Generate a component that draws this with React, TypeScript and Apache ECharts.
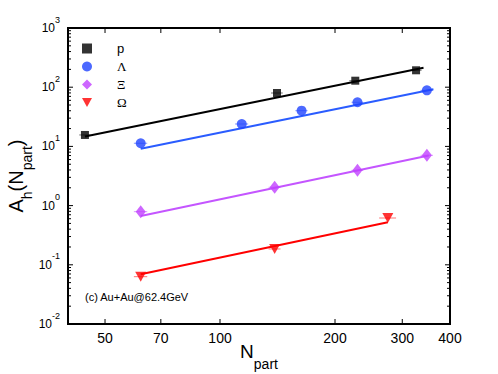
import React, { useEffect, useRef } from 'react';
import * as echarts from 'echarts';

// ---- data ----
const xRange = [40, 400];
const yRange = [0.01, 1000];
const xTickValues = [50, 70, 100, 200, 300, 400];
const yMajorTicks = [0.01, 0.1, 1, 10, 100, 1000];
const speciesNames = ['p', 'Λ', 'Ξ', 'Ω'];

const pN = [44.3, 141, 226, 326];
const pA = [15.6, 79.8, 128.8, 193];
const pErr = [1.5, 5, 8, 11];

const lambdaN = [62, 114, 163.5, 229, 348];
const lambdaA = [11.3, 23.9, 40.1, 55.6, 88.6];
const lambdaErr = [2.5, 4.5, 6, 8, 13];

const xiN = [62, 139, 229, 348];
const xiA = [0.79, 2.04, 3.95, 7.07];
const xiErr = [2.5, 5, 8, 13];

const omegaN = [62, 139, 275];
const omegaA = [0.063, 0.185, 0.617];
const omegaErr = [2.5, 5, 14];

// fitted power-law lines: endpoints
const pFitN = [44.3, 341];
const pFitA = [14.7, 213];
const lambdaFitN = [62, 362];
const lambdaFitA = [9.15, 92];
const xiFitN = [62, 352];
const xiFitA = [0.667, 7.0];
const omegaFitN = [62, 275];
const omegaFitA = [0.069, 0.522];

const annotation = '(c) Au+Au@62.4GeV';

const SANS = "'Liberation Sans', Arial, Helvetica, sans-serif";
const SERIF = "'Liberation Serif', 'Times New Roman', serif";

const colors = {
  p: '#000000',
  lambda: '#1f44ff',
  lambdaLine: '#2a5cff',
  xi: '#c040ff',
  xiLine: '#c455ff',
  omega: '#ff0000',
};

// minor tick positions of the log y axis (2..9 in every decade)
const yMinorTicks: number[] = [];
yMajorTicks.slice(0, -1).forEach((d) => {
  [2, 3, 4, 5, 6, 7, 8, 9].forEach((k) => yMinorTicks.push(+(d * k).toPrecision(3)));
});

function pairs(xs: number[], ys: number[]) {
  return xs.map((x, i) => [x, ys[i]]);
}
function errData(xs: number[], ys: number[], es: number[]) {
  return xs.map((x, i) => [x - es[i], x + es[i], ys[i]]);
}

function errSeries(xs: number[], ys: number[], es: number[], color: string) {
  return {
    type: 'custom',
    name: 'err',
    silent: true,
    z: 3,
    data: errData(xs, ys, es),
    encode: { x: [0, 1], y: 2 },
    renderItem: (params: any, api: any) => {
      const a = api.coord([api.value(0), api.value(2)]);
      const b = api.coord([api.value(1), api.value(2)]);
      return {
        type: 'line',
        shape: { x1: a[0], y1: a[1], x2: b[0], y2: b[1] },
        style: { stroke: color, lineWidth: 1, opacity: 0.55 },
      };
    },
  };
}

function fitSeries(xs: number[], ys: number[], color: string, name: string) {
  return {
    type: 'line',
    name,
    data: pairs(xs, ys),
    symbol: 'none',
    silent: true,
    z: 2,
    lineStyle: { color, width: 2 },
  };
}

export default function App() {
  const ref = useRef<HTMLDivElement>(null);

  useEffect(() => {
    document.body.style.margin = '0';
    if (!ref.current) return;
    const chart = echarts.init(ref.current, null, { renderer: 'svg' });

    const yLabel = (v: number) => `{b|10}{s|${Math.round(Math.log10(v))}}`;

    const option: any = {
      animation: false,
      backgroundColor: '#ffffff',
      grid: { left: 68, right: 48, top: 28, bottom: 50, containLabel: false, outerBoundsMode: 'none' },
      legend: {
        orient: 'vertical',
        left: 82,
        top: 42,
        padding: 0,
        itemWidth: 10,
        itemHeight: 10,
        itemGap: 5,
        selectedMode: false,
        textStyle: { color: '#000', fontSize: 12, fontFamily: SANS, padding: [0, 0, 0, 20] },
        data: [
          { name: speciesNames[0], textStyle: { fontFamily: SANS, fontSize: 13, padding: [0, 0, 0, 20] } },
          { name: speciesNames[1], textStyle: { fontFamily: SERIF, fontSize: 13, padding: [0, 0, 0, 20] } },
          { name: speciesNames[2], textStyle: { fontFamily: SERIF, fontSize: 13, padding: [0, 0, 0, 20] } },
          {
            name: speciesNames[3],
            icon: 'path://M0,0L10,0L5,9Z',
            textStyle: { fontFamily: SERIF, fontSize: 13, padding: [0, 0, 0, 20] },
          },
        ],
      },
      xAxis: [
        {
          type: 'log',
          logBase: 10,
          min: xRange[0],
          max: xRange[1],
          position: 'bottom',
          splitLine: { show: false },
          axisLine: { show: false },
          axisTick: { show: false },
          axisLabel: {
            show: true,
            customValues: xTickValues,
            margin: 7,
            color: '#000',
            fontSize: 14,
            fontFamily: SANS,
            formatter: (v: number) => String(Math.round(v)),
          },
          name: '{m|N}{s|part}',
          nameLocation: 'middle',
          nameGap: 18,
          nameMoveOverlap: false,
          nameTextStyle: {
            rich: {
              m: { fontSize: 19, lineHeight: 22, verticalAlign: 'top', color: '#000', fontFamily: SANS },
              s: { fontSize: 14, lineHeight: 14, verticalAlign: 'top', padding: [15, 0, 0, 0], color: '#000', fontFamily: SANS },
            },
          },
        },
      ],
      yAxis: [
        {
          type: 'log',
          logBase: 10,
          min: yRange[0],
          max: yRange[1],
          position: 'left',
          splitLine: { show: false },
          axisLine: { show: false },
          axisTick: { show: false },
          axisLabel: {
            show: true,
            margin: 8,
            formatter: yLabel,
            rich: {
              b: { fontSize: 12, lineHeight: 26, verticalAlign: 'middle', color: '#000', fontFamily: SANS },
              s: { fontSize: 9, lineHeight: 10, verticalAlign: 'top', color: '#000', fontFamily: SANS },
            },
          },
          name: '{m|A}{s|h}{m|(N}{s|part}{m|)}',
          nameLocation: 'middle',
          nameGap: 40,
          nameMoveOverlap: false,
          nameTextStyle: {
            rich: {
              m: { fontSize: 20, lineHeight: 22, verticalAlign: 'top', color: '#000', fontFamily: SANS },
              s: { fontSize: 14, lineHeight: 14, verticalAlign: 'top', padding: [14, 0, 0, 0], color: '#000', fontFamily: SANS },
            },
          },
        },
      ],
      series: [
        fitSeries(pFitN, pFitA, colors.p, 'p fit'),
        fitSeries(lambdaFitN, lambdaFitA, colors.lambdaLine, 'Λ fit'),
        fitSeries(xiFitN, xiFitA, colors.xiLine, 'Ξ fit'),
        fitSeries(omegaFitN, omegaFitA, colors.omega, 'Ω fit'),
        errSeries(pN, pA, pErr, colors.p),
        errSeries(lambdaN, lambdaA, lambdaErr, colors.lambda),
        errSeries(xiN, xiA, xiErr, colors.xi),
        errSeries(omegaN, omegaA, omegaErr, colors.omega),
        {
          type: 'scatter',
          name: speciesNames[0],
          data: pairs(pN, pA),
          symbol: 'rect',
          symbolSize: 8,
          z: 5,
          itemStyle: { color: colors.p },
        },
        {
          type: 'scatter',
          name: speciesNames[1],
          data: pairs(lambdaN, lambdaA),
          symbol: 'circle',
          symbolSize: 10,
          z: 5,
          itemStyle: { color: colors.lambda },
        },
        {
          type: 'scatter',
          name: speciesNames[2],
          data: pairs(xiN, xiA),
          symbol: 'diamond',
          symbolSize: [10, 13],
          z: 5,
          itemStyle: { color: colors.xi },
        },
        {
          type: 'scatter',
          name: speciesNames[3],
          data: pairs(omegaN, omegaA),
          symbol: 'triangle',
          symbolRotate: 180,
          symbolSize: [11, 10],
          z: 5,
          itemStyle: { color: colors.omega },
        },
      ],
    };

    chart.setOption(option);

    // frame and inward ticks, placed through the chart's own axis mapping
    const px = (x: number, y: number) => chart.convertToPixel({ gridIndex: 0 }, [x, y]) as number[];
    const tl = px(xRange[0], yRange[1]);
    const br = px(xRange[1], yRange[0]);
    const items: any[] = [];
    const tick = (x1: number, y1: number, x2: number, y2: number) =>
      items.push({
        type: 'line',
        silent: true,
        z: 50,
        shape: { x1, y1, x2, y2 },
        style: { stroke: '#000000', lineWidth: 1 },
      });
    xTickValues.forEach((v) => {
      const x = px(v, yRange[0])[0];
      tick(x, br[1], x, br[1] - 5);
      tick(x, tl[1], x, tl[1] + 5);
    });
    yMajorTicks.forEach((v) => {
      const y = px(xRange[0], v)[1];
      tick(tl[0], y, tl[0] + 5, y);
      tick(br[0], y, br[0] - 5, y);
    });
    yMinorTicks.forEach((v) => {
      const y = px(xRange[0], v)[1];
      tick(tl[0], y, tl[0] + 3, y);
      tick(br[0], y, br[0] - 3, y);
    });
    items.push({
      type: 'rect',
      silent: true,
      z: 50,
      shape: { x: tl[0], y: tl[1], width: br[0] - tl[0], height: br[1] - tl[1] },
      style: { fill: 'none', stroke: '#000000', lineWidth: 2 },
    });
    items.push({
      type: 'text',
      x: 85,
      y: 297,
      style: { text: annotation, fontSize: 11, fontFamily: SANS, fill: '#000', verticalAlign: 'middle' },
    });
    chart.setOption({ graphic: items });

    return () => chart.dispose();
  }, []);

  return (
    <div
      ref={ref}
      style={{ position: 'absolute', left: 0, top: 0, width: 498, height: 374, background: '#fff' }}
    />
  );
}
